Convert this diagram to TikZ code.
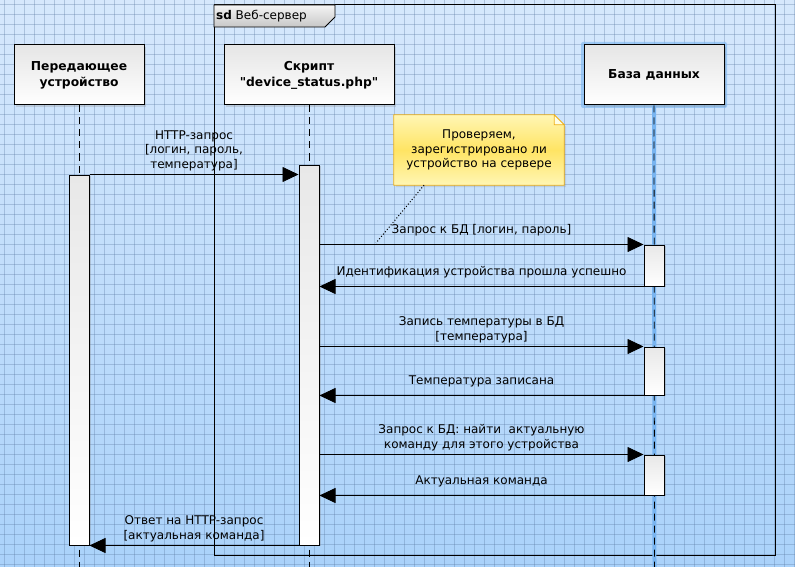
\documentclass[tikz,border=0pt]{standalone}
\usepackage{fontspec}
\setmainfont{DejaVu Sans}[Ligatures=TeXOff]
\usetikzlibrary{arrows.meta, shadows, positioning}
\definecolor{bgtop}{RGB}{214,232,252}
\definecolor{bgbot}{RGB}{170,210,250}
\definecolor{gridc}{RGB}{90,120,160}
\definecolor{lifehl}{RGB}{120,180,240}
\definecolor{noteedge}{RGB}{240,176,20}
\definecolor{notetop}{RGB}{255,246,180}
\definecolor{notemid}{RGB}{255,228,100}
\tikzset{
	head/.style={draw, line width=1pt, top color=black!10, bottom color=white, minimum width=130pt, minimum height=60pt, align=center, font=\fontsize{12.3}{16}\selectfont\bfseries, drop shadow={shadow xshift=2pt, shadow yshift=-2pt, opacity=.25}},
	act/.style={draw, line width=1pt, top color=black!9, bottom color=white, minimum width=20pt, inner sep=0pt, drop shadow={shadow xshift=2pt, shadow yshift=-1pt, opacity=.3}},
	life/.style={dash pattern=on 7pt off 5pt, line width=.8pt},
	msg/.style={line width=.8pt, -{Triangle[length=16pt, width=15pt]}},
	lbl/.style={align=center, inner sep=0pt, text depth=.25em}
}
\begin{document}
\begin{tikzpicture}[x=1pt, y=-1pt]
	\fontsize{12}{14.5}\selectfont
	\useasboundingbox (0,0) rectangle (795,567);
	\shade[top color=bgtop, bottom color=bgbot] (0,0) rectangle (795,567);
	\foreach \g in {4,14,...,794} \draw[gridc, opacity=.33, line width=.6pt] (\g,0) -- (\g,567);
	\foreach \g in {4,14,...,564} \draw[gridc, opacity=.33, line width=.6pt] (0,\g) -- (795,\g);
	\draw[line width=1pt] (214,5) rectangle (775,555);
	\shade[draw, line width=.8pt, top color=black!4, bottom color=black!22] (214,5) -- (335,5) -- (335,17) -- (325,27) -- (214,27) -- cycle;
	\node[anchor=west, inner sep=2pt] (sdlbl) at (214,16) {\textbf{sd} Веб-сервер};
	\node[head] (dev) at (79,75) {Передающее\\устройство};
	\node[head, minimum width=170pt] (scr) at (309,75) {Скрипт\\"device\_status.php"};
	\fill[lifehl, opacity=.6, rounded corners=2pt] (581,42) rectangle (727,108);
	\node[head, minimum width=140pt] (db) at (654,75) {База данных};
	\coordinate (devend) at (79,567);
	\coordinate (scrend) at (309,567);
	\coordinate (dbend) at (654.5,567);
	\draw[lifehl, line width=4pt] (db.south) -- (dbend);
	\draw[life] (dev.south) -- (devend);
	\draw[life] (scr.south) -- (scrend);
	\draw[life] (db.south) -- (dbend);
	\node[act, minimum height=370pt] (devact) at (79,360) {};
	\node[act, minimum height=380pt] (scract) at (309,355) {};
	\node[act, minimum height=41pt] (db1) at (654,265.5) {};
	\node[act, minimum height=48pt] (db2) at (654,371) {};
	\node[act, minimum height=40pt] (db3) at (654,475) {};
	\draw[msg] (devact.north east) -- (scract.west |- devact.north) node[lbl, midway, above=3pt] {HTTP-запрос\\{}[логин, пароль,\\температура]};
	\draw[msg] (scract.east |- db1.north) -- (db1.north west) node[lbl, midway, above=8pt] {Запрос к БД [логин, пароль]};
	\draw[msg] (db1.south west) -- (scract.east |- db1.south) node[lbl, midway, above=8pt] {Идентификация устройства прошла успешно};
	\draw[msg] (scract.east |- db2.north) -- (db2.north west) node[lbl, midway, above=3pt] {Запись температуры в БД\\{}[температура]};
	\draw[msg] (db2.south west) -- (scract.east |- db2.south) node[lbl, midway, above=8pt] {Температура записана};
	\draw[msg] (scract.east |- db3.north) -- (db3.north west) node[lbl, midway, above=3pt] {Запрос к БД: найти\ \ актуальную\\команду для этого устройства};
	\draw[msg] (db3.south west) -- (scract.east |- db3.south) node[lbl, midway, above=8pt] {Актуальная команда};
	\draw[msg] (scract.south west) -- (devact.east |- scract.south) node[lbl, midway, above=3pt] {Ответ на HTTP-запрос\\{}[актуальная команда]};
	\node[minimum width=170pt, minimum height=70pt, inner sep=0pt] (chk) at (479,150) {};
	\shade[draw=noteedge, line width=.8pt, top color=notetop, bottom color=notetop, middle color=notemid, drop shadow={shadow xshift=2pt, shadow yshift=-2pt, opacity=.2}] (chk.south west) -- (chk.north west) -- ([xshift=-10pt]chk.north east) -- ([yshift=-10pt]chk.north east) -- (chk.south east) -- cycle;
	\fill[white!90!yellow, draw=noteedge, line width=.6pt] ([xshift=-10pt]chk.north east) -- ([xshift=-10pt, yshift=-10pt]chk.north east) -- ([yshift=-10pt]chk.north east) -- cycle;
	\node[align=center, inner sep=0pt] (chktext) at (chk.center) {Проверяем,\\зарегистрировано ли\\устройство на сервере};
	\coordinate (chkpt) at (376,243);
	\draw[dotted, line width=1pt] ([xshift=-55pt]chk.south) -- (chkpt);
\end{tikzpicture}
\end{document}
